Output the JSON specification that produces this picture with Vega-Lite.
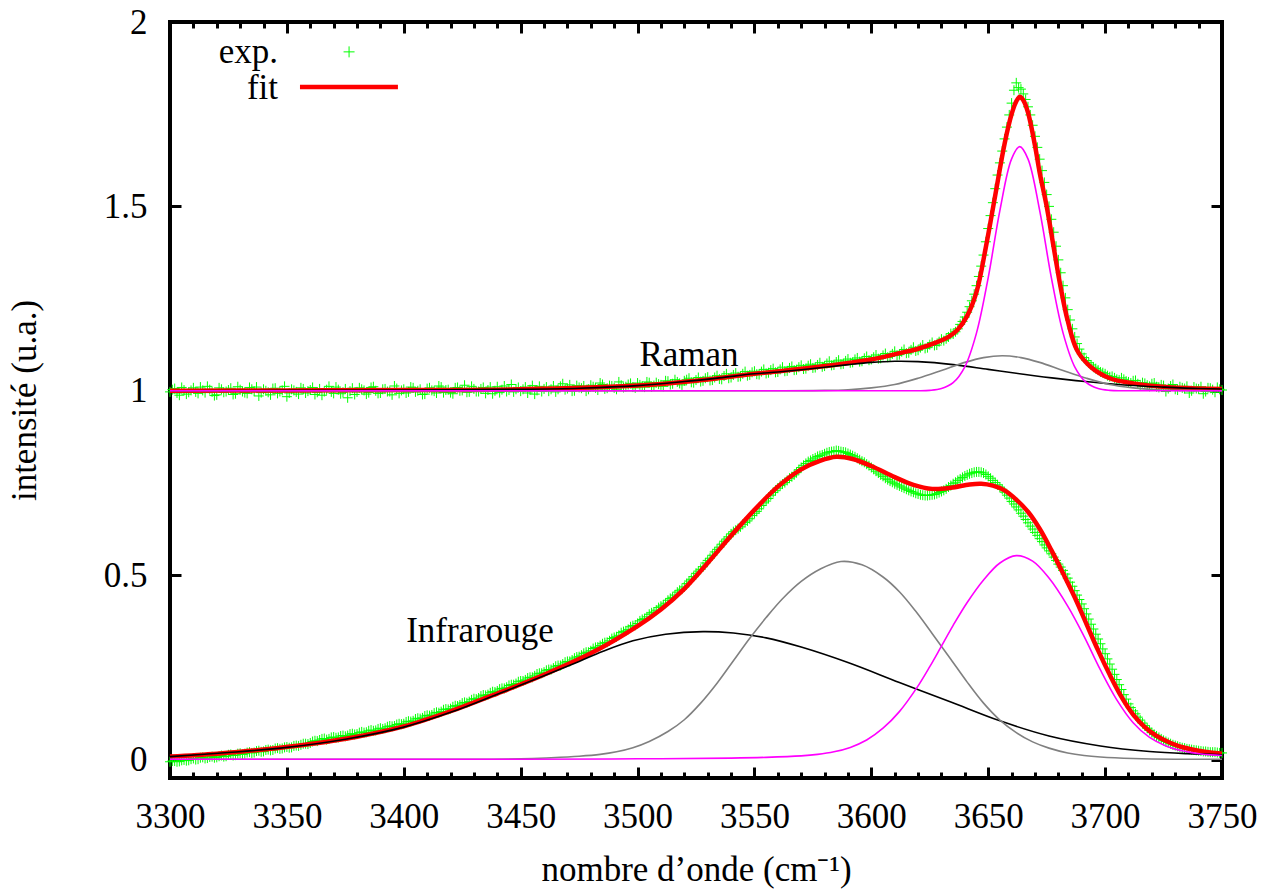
{
  "$schema": "https://vega.github.io/schema/vega-lite/v6.json",
  "width": 1052,
  "height": 756,
  "autosize": {"type": "none"},
  "padding": {"left": 170, "top": 22, "right": 46, "bottom": 112},
  "background": "white",
  "config": {
    "view": {"stroke": "black", "strokeWidth": 4},
    "axis": {"grid": false, "domain": false, "labelFont": "Liberation Serif", "labelFontSize": 35, "labelColor": "black", "titleFont": "Liberation Serif", "titleFontSize": 35, "titleFontWeight": "normal", "titleColor": "black", "tickColor": "black", "labelFlush": false, "labelOverlap": false}
  },
  "datasets": {
    "exp": [
      {"x":3300,"y":0.997},{"x":3302,"y":1.006},{"x":3304,"y":0.988},{"x":3306,"y":1.002},{"x":3308,"y":0.996},{"x":3310,"y":1.008},{"x":3312,"y":0.993},{"x":3314,"y":1.001},{"x":3316,"y":1.012},{"x":3318,"y":0.997},
      {"x":3320,"y":0.989},{"x":3322,"y":1.004},{"x":3324,"y":0.998},{"x":3326,"y":1.007},{"x":3328,"y":0.992},{"x":3330,"y":1.003},{"x":3332,"y":0.995},{"x":3334,"y":1.009},{"x":3336,"y":0.999},{"x":3338,"y":0.986},
      {"x":3340,"y":1.004},{"x":3342,"y":0.996},{"x":3344,"y":1.006},{"x":3346,"y":0.993},{"x":3348,"y":1.001},{"x":3350,"y":0.984},{"x":3352,"y":1.004},{"x":3354,"y":0.997},{"x":3356,"y":1.008},{"x":3358,"y":0.994},
      {"x":3360,"y":1.002},{"x":3362,"y":0.990},{"x":3364,"y":1.005},{"x":3366,"y":0.998},{"x":3368,"y":1.012},{"x":3370,"y":0.993},{"x":3372,"y":1.003},{"x":3374,"y":0.996},{"x":3376,"y":0.981},{"x":3378,"y":1.007},
      {"x":3380,"y":0.997},{"x":3382,"y":1.004},{"x":3384,"y":0.991},{"x":3386,"y":1.009},{"x":3388,"y":1.000},{"x":3390,"y":0.994},{"x":3392,"y":1.005},{"x":3394,"y":0.998},{"x":3396,"y":1.013},{"x":3398,"y":0.993},
      {"x":3400,"y":1.004},{"x":3402,"y":0.997},{"x":3404,"y":1.008},{"x":3406,"y":1.000},{"x":3408,"y":0.990},{"x":3410,"y":1.006},{"x":3412,"y":1.001},{"x":3414,"y":0.994},{"x":3416,"y":1.010},{"x":3418,"y":1.002},
      {"x":3420,"y":0.995},{"x":3422,"y":1.008},{"x":3424,"y":1.000},{"x":3426,"y":1.015},{"x":3428,"y":0.997},{"x":3430,"y":1.005},{"x":3432,"y":0.998},{"x":3434,"y":1.009},{"x":3436,"y":1.002},{"x":3438,"y":0.992},
      {"x":3440,"y":1.011},{"x":3442,"y":1.003},{"x":3444,"y":0.998},{"x":3446,"y":1.017},{"x":3448,"y":1.004},{"x":3450,"y":0.999},{"x":3452,"y":1.010},{"x":3454,"y":1.003},{"x":3456,"y":0.991},{"x":3458,"y":1.012},
      {"x":3460,"y":1.005},{"x":3462,"y":0.999},{"x":3464,"y":1.013},{"x":3466,"y":1.004},{"x":3468,"y":1.019},{"x":3470,"y":1.006},{"x":3472,"y":0.999},{"x":3474,"y":1.014},{"x":3476,"y":1.007},{"x":3478,"y":0.999},
      {"x":3480,"y":1.015},{"x":3482,"y":1.008},{"x":3484,"y":1.021},{"x":3486,"y":1.005},{"x":3488,"y":1.014},{"x":3490,"y":1.008},{"x":3492,"y":1.024},{"x":3494,"y":1.009},{"x":3496,"y":1.017},{"x":3498,"y":1.010},
      {"x":3500,"y":1.021},{"x":3502,"y":1.012},{"x":3504,"y":1.024},{"x":3506,"y":1.011},{"x":3508,"y":1.022},{"x":3510,"y":1.016},{"x":3512,"y":1.027},{"x":3514,"y":1.017},{"x":3516,"y":1.030},{"x":3518,"y":1.020},
      {"x":3520,"y":1.027},{"x":3522,"y":1.034},{"x":3524,"y":1.022},{"x":3526,"y":1.036},{"x":3528,"y":1.027},{"x":3530,"y":1.037},{"x":3532,"y":1.029},{"x":3534,"y":1.041},{"x":3536,"y":1.031},{"x":3538,"y":1.046},
      {"x":3540,"y":1.036},{"x":3542,"y":1.048},{"x":3544,"y":1.039},{"x":3546,"y":1.052},{"x":3548,"y":1.043},{"x":3550,"y":1.053},{"x":3552,"y":1.044},{"x":3554,"y":1.058},{"x":3556,"y":1.049},{"x":3558,"y":1.060},
      {"x":3560,"y":1.051},{"x":3562,"y":1.064},{"x":3564,"y":1.054},{"x":3566,"y":1.066},{"x":3568,"y":1.057},{"x":3570,"y":1.069},{"x":3572,"y":1.060},{"x":3574,"y":1.072},{"x":3576,"y":1.063},{"x":3578,"y":1.076},
      {"x":3580,"y":1.067},{"x":3582,"y":1.080},{"x":3584,"y":1.070},{"x":3586,"y":1.083},{"x":3588,"y":1.073},{"x":3590,"y":1.086},{"x":3592,"y":1.077},{"x":3594,"y":1.089},{"x":3596,"y":1.080},{"x":3598,"y":1.093},
      {"x":3600,"y":1.085},{"x":3602,"y":1.097},{"x":3604,"y":1.088},{"x":3606,"y":1.101},{"x":3608,"y":1.093},{"x":3610,"y":1.107},{"x":3612,"y":1.098},{"x":3614,"y":1.112},{"x":3616,"y":1.103},{"x":3618,"y":1.118},
      {"x":3620,"y":1.110},{"x":3622,"y":1.124},{"x":3624,"y":1.117},{"x":3626,"y":1.131},{"x":3628,"y":1.124},{"x":3630,"y":1.140},{"x":3632,"y":1.141},{"x":3634,"y":1.155},{"x":3636,"y":1.160},{"x":3638,"y":1.180},
      {"x":3640,"y":1.200},{"x":3642,"y":1.228},{"x":3644,"y":1.262},{"x":3646,"y":1.310},{"x":3648,"y":1.368},{"x":3650,"y":1.440},{"x":3652,"y":1.510},{"x":3654,"y":1.585},{"x":3656,"y":1.650},{"x":3658,"y":1.715},
      {"x":3660,"y":1.780},{"x":3661,"y":1.815},{"x":3662,"y":1.835},{"x":3663,"y":1.822},{"x":3664,"y":1.818},{"x":3666,"y":1.790},{"x":3668,"y":1.748},{"x":3670,"y":1.690},{"x":3672,"y":1.628},{"x":3674,"y":1.565},
      {"x":3676,"y":1.500},{"x":3678,"y":1.430},{"x":3680,"y":1.355},{"x":3682,"y":1.285},{"x":3684,"y":1.220},{"x":3686,"y":1.168},{"x":3688,"y":1.128},{"x":3690,"y":1.100},{"x":3692,"y":1.082},{"x":3694,"y":1.070},
      {"x":3696,"y":1.060},{"x":3698,"y":1.051},{"x":3700,"y":1.046},{"x":3702,"y":1.038},{"x":3704,"y":1.035},{"x":3706,"y":1.029},{"x":3708,"y":1.031},{"x":3710,"y":1.024},{"x":3712,"y":1.027},{"x":3714,"y":1.019},
      {"x":3716,"y":1.022},{"x":3718,"y":1.015},{"x":3720,"y":1.019},{"x":3722,"y":1.011},{"x":3724,"y":1.016},{"x":3726,"y":0.998},{"x":3728,"y":1.013},{"x":3730,"y":1.004},{"x":3732,"y":1.011},{"x":3734,"y":1.006},
      {"x":3736,"y":0.994},{"x":3738,"y":1.010},{"x":3740,"y":1.005},{"x":3742,"y":0.992},{"x":3744,"y":1.008},{"x":3746,"y":1.003},{"x":3748,"y":1.009},{"x":3750,"y":1.002},
      {"x":3301,"y":1.003},{"x":3303,"y":0.994},{"x":3305,"y":1.009},{"x":3307,"y":0.991},{"x":3309,"y":1.001},{"x":3311,"y":0.997},{"x":3313,"y":1.010},{"x":3315,"y":0.995},{"x":3317,"y":1.003},{"x":3319,"y":0.987},
      {"x":3321,"y":1.008},{"x":3323,"y":0.996},{"x":3325,"y":1.002},{"x":3327,"y":0.990},{"x":3329,"y":1.011},{"x":3331,"y":0.998},{"x":3333,"y":0.993},{"x":3335,"y":1.004},{"x":3337,"y":1.010},{"x":3339,"y":0.995},
      {"x":3341,"y":1.000},{"x":3343,"y":0.989},{"x":3345,"y":1.007},{"x":3347,"y":0.998},{"x":3349,"y":1.012},{"x":3351,"y":0.994},{"x":3353,"y":1.001},{"x":3355,"y":0.991},{"x":3357,"y":1.005},{"x":3359,"y":0.999},
      {"x":3361,"y":1.009},{"x":3363,"y":0.996},{"x":3365,"y":0.988},{"x":3367,"y":1.003},{"x":3369,"y":0.997},{"x":3371,"y":1.010},{"x":3373,"y":0.992},{"x":3375,"y":1.005},{"x":3377,"y":0.999},{"x":3379,"y":0.990},
      {"x":3381,"y":1.008},{"x":3383,"y":1.001},{"x":3385,"y":0.995},{"x":3387,"y":1.011},{"x":3389,"y":0.993},{"x":3391,"y":1.004},{"x":3393,"y":0.998},{"x":3395,"y":0.989},{"x":3397,"y":1.006},{"x":3399,"y":1.001},
      {"x":3401,"y":0.994},{"x":3403,"y":1.010},{"x":3405,"y":0.997},{"x":3407,"y":1.004},{"x":3409,"y":0.991},{"x":3411,"y":1.008},{"x":3413,"y":0.999},{"x":3415,"y":1.013},{"x":3417,"y":0.995},{"x":3419,"y":1.003},
      {"x":3421,"y":0.992},{"x":3423,"y":1.009},{"x":3425,"y":1.001},{"x":3427,"y":0.996},{"x":3429,"y":1.012},{"x":3431,"y":0.998},{"x":3433,"y":1.005},{"x":3435,"y":0.993},{"x":3437,"y":1.010},{"x":3439,"y":1.000},
      {"x":3441,"y":0.995},{"x":3443,"y":1.013},{"x":3445,"y":1.002},{"x":3447,"y":0.997},{"x":3449,"y":1.009},{"x":3451,"y":1.004},{"x":3453,"y":0.994},{"x":3455,"y":1.014},{"x":3457,"y":1.001},{"x":3459,"y":0.998},
      {"x":3461,"y":1.010},{"x":3463,"y":1.004},{"x":3465,"y":0.997},{"x":3467,"y":1.012},{"x":3469,"y":1.003},{"x":3471,"y":1.016},{"x":3473,"y":1.000},{"x":3475,"y":1.009},{"x":3477,"y":1.013},{"x":3479,"y":1.004},
      {"x":3481,"y":1.011},{"x":3483,"y":1.002},{"x":3485,"y":1.017},{"x":3487,"y":1.007},{"x":3489,"y":1.013},{"x":3491,"y":1.004},{"x":3493,"y":1.015},{"x":3495,"y":1.011},{"x":3497,"y":1.020},{"x":3499,"y":1.008},
      {"x":3501,"y":1.016},{"x":3503,"y":1.010},{"x":3505,"y":1.022},{"x":3507,"y":1.014},{"x":3509,"y":1.018},{"x":3511,"y":1.012},{"x":3513,"y":1.026},{"x":3515,"y":1.019},{"x":3517,"y":1.024},{"x":3519,"y":1.016},
      {"x":3521,"y":1.030},{"x":3523,"y":1.023},{"x":3525,"y":1.029},{"x":3527,"y":1.025},{"x":3529,"y":1.034},{"x":3531,"y":1.028},{"x":3533,"y":1.036},{"x":3535,"y":1.032},{"x":3537,"y":1.040},{"x":3539,"y":1.034},
      {"x":3541,"y":1.043},{"x":3543,"y":1.038},{"x":3545,"y":1.046},{"x":3547,"y":1.041},{"x":3549,"y":1.050},{"x":3551,"y":1.045},{"x":3553,"y":1.052},{"x":3555,"y":1.047},{"x":3557,"y":1.056},{"x":3559,"y":1.050},
      {"x":3561,"y":1.058},{"x":3563,"y":1.053},{"x":3565,"y":1.062},{"x":3567,"y":1.056},{"x":3569,"y":1.064},{"x":3571,"y":1.059},{"x":3573,"y":1.068},{"x":3575,"y":1.062},{"x":3577,"y":1.070},{"x":3579,"y":1.065},
      {"x":3581,"y":1.074},{"x":3583,"y":1.069},{"x":3585,"y":1.078},{"x":3587,"y":1.072},{"x":3589,"y":1.081},{"x":3591,"y":1.076},{"x":3593,"y":1.085},{"x":3595,"y":1.079},{"x":3597,"y":1.088},{"x":3599,"y":1.083},
      {"x":3601,"y":1.091},{"x":3603,"y":1.087},{"x":3605,"y":1.096},{"x":3607,"y":1.091},{"x":3609,"y":1.100},{"x":3611,"y":1.096},{"x":3613,"y":1.106},{"x":3615,"y":1.102},{"x":3617,"y":1.111},{"x":3619,"y":1.108},
      {"x":3621,"y":1.117},{"x":3623,"y":1.115},{"x":3625,"y":1.125},{"x":3627,"y":1.123},{"x":3629,"y":1.133},{"x":3631,"y":1.136},{"x":3633,"y":1.146},{"x":3635,"y":1.154},{"x":3637,"y":1.168},{"x":3639,"y":1.188},
      {"x":3641,"y":1.213},{"x":3643,"y":1.244},{"x":3645,"y":1.285},{"x":3647,"y":1.338},{"x":3649,"y":1.404},{"x":3651,"y":1.475},{"x":3653,"y":1.548},{"x":3655,"y":1.618},{"x":3657,"y":1.683},{"x":3659,"y":1.748},
      {"x":3665,"y":1.805},{"x":3667,"y":1.770},{"x":3669,"y":1.720},{"x":3671,"y":1.660},{"x":3673,"y":1.597},{"x":3675,"y":1.532},{"x":3677,"y":1.465},{"x":3679,"y":1.392},{"x":3681,"y":1.320},{"x":3683,"y":1.252},
      {"x":3685,"y":1.192},{"x":3687,"y":1.146},{"x":3689,"y":1.113},{"x":3691,"y":1.090},{"x":3693,"y":1.076},{"x":3695,"y":1.064},{"x":3697,"y":1.056},{"x":3699,"y":1.049},{"x":3701,"y":1.041},{"x":3703,"y":1.039},
      {"x":3705,"y":1.031},{"x":3707,"y":1.035},{"x":3709,"y":1.026},{"x":3711,"y":1.021},{"x":3713,"y":1.028},{"x":3715,"y":1.016},{"x":3717,"y":1.020},{"x":3719,"y":1.012},{"x":3721,"y":1.021},{"x":3723,"y":1.009},
      {"x":3725,"y":1.014},{"x":3727,"y":1.006},{"x":3729,"y":1.017},{"x":3731,"y":1.002},{"x":3733,"y":1.008},{"x":3735,"y":1.012},{"x":3737,"y":1.000},{"x":3739,"y":1.006},{"x":3741,"y":1.011},{"x":3743,"y":0.998},
      {"x":3745,"y":1.007},{"x":3747,"y":0.996},{"x":3749,"y":1.004},
      {"x":3300,"y":-0.006},{"x":3302,"y":-0.004},{"x":3304,"y":-0.005},{"x":3306,"y":-0.001},{"x":3308,"y":-0.002},{"x":3310,"y":0.003},{"x":3312,"y":0.001},{"x":3314,"y":0.006},{"x":3316,"y":0.004},{"x":3318,"y":0.008},
      {"x":3320,"y":0.006},{"x":3322,"y":0.011},{"x":3324,"y":0.009},{"x":3326,"y":0.014},{"x":3328,"y":0.012},{"x":3330,"y":0.017},{"x":3332,"y":0.016},{"x":3334,"y":0.020},{"x":3336,"y":0.019},{"x":3338,"y":0.024},
      {"x":3340,"y":0.022},{"x":3342,"y":0.027},{"x":3344,"y":0.026},{"x":3346,"y":0.031},{"x":3348,"y":0.030},{"x":3350,"y":0.034},{"x":3352,"y":0.033},{"x":3354,"y":0.038},{"x":3356,"y":0.040},{"x":3358,"y":0.043},
      {"x":3360,"y":0.045},{"x":3362,"y":0.051},{"x":3364,"y":0.053},{"x":3366,"y":0.057},{"x":3368,"y":0.056},{"x":3370,"y":0.061},{"x":3372,"y":0.060},{"x":3374,"y":0.065},{"x":3376,"y":0.065},{"x":3378,"y":0.070},
      {"x":3380,"y":0.069},{"x":3382,"y":0.075},{"x":3384,"y":0.074},{"x":3386,"y":0.080},{"x":3388,"y":0.079},{"x":3390,"y":0.085},{"x":3392,"y":0.085},{"x":3394,"y":0.091},{"x":3396,"y":0.091},{"x":3398,"y":0.097},
      {"x":3400,"y":0.097},{"x":3402,"y":0.104},{"x":3404,"y":0.105},{"x":3406,"y":0.112},{"x":3408,"y":0.113},{"x":3410,"y":0.120},{"x":3412,"y":0.121},{"x":3414,"y":0.128},{"x":3416,"y":0.130},{"x":3418,"y":0.137},
      {"x":3420,"y":0.138},{"x":3422,"y":0.146},{"x":3424,"y":0.148},{"x":3426,"y":0.155},{"x":3428,"y":0.157},{"x":3430,"y":0.165},{"x":3432,"y":0.167},{"x":3434,"y":0.175},{"x":3436,"y":0.176},{"x":3438,"y":0.184},
      {"x":3440,"y":0.186},{"x":3442,"y":0.193},{"x":3444,"y":0.196},{"x":3446,"y":0.203},{"x":3448,"y":0.206},{"x":3450,"y":0.213},{"x":3452,"y":0.216},{"x":3454,"y":0.223},{"x":3456,"y":0.227},{"x":3458,"y":0.234},
      {"x":3460,"y":0.237},{"x":3462,"y":0.244},{"x":3464,"y":0.248},{"x":3466,"y":0.255},{"x":3468,"y":0.259},{"x":3470,"y":0.266},{"x":3472,"y":0.270},{"x":3474,"y":0.278},{"x":3476,"y":0.283},{"x":3478,"y":0.291},
      {"x":3480,"y":0.295},{"x":3482,"y":0.304},{"x":3484,"y":0.309},{"x":3486,"y":0.317},{"x":3488,"y":0.322},{"x":3490,"y":0.331},{"x":3492,"y":0.337},{"x":3494,"y":0.347},{"x":3496,"y":0.353},{"x":3498,"y":0.363},
      {"x":3500,"y":0.369},{"x":3502,"y":0.380},{"x":3504,"y":0.387},{"x":3506,"y":0.398},{"x":3508,"y":0.405},{"x":3510,"y":0.416},{"x":3512,"y":0.424},{"x":3514,"y":0.437},{"x":3516,"y":0.446},{"x":3518,"y":0.459},
      {"x":3520,"y":0.468},{"x":3522,"y":0.484},{"x":3524,"y":0.496},{"x":3526,"y":0.511},{"x":3528,"y":0.523},{"x":3530,"y":0.540},{"x":3532,"y":0.554},{"x":3534,"y":0.570},{"x":3536,"y":0.584},{"x":3538,"y":0.598},
      {"x":3540,"y":0.612},{"x":3542,"y":0.622},{"x":3544,"y":0.631},{"x":3546,"y":0.643},{"x":3548,"y":0.653},{"x":3550,"y":0.668},{"x":3552,"y":0.680},{"x":3554,"y":0.696},{"x":3556,"y":0.708},{"x":3558,"y":0.724},
      {"x":3560,"y":0.736},{"x":3562,"y":0.747},{"x":3564,"y":0.757},{"x":3566,"y":0.767},{"x":3568,"y":0.778},{"x":3570,"y":0.792},{"x":3572,"y":0.803},{"x":3574,"y":0.811},{"x":3576,"y":0.818},{"x":3578,"y":0.824},
      {"x":3580,"y":0.829},{"x":3582,"y":0.834},{"x":3584,"y":0.836},{"x":3586,"y":0.837},{"x":3588,"y":0.834},{"x":3590,"y":0.830},{"x":3592,"y":0.824},{"x":3594,"y":0.817},{"x":3596,"y":0.809},{"x":3598,"y":0.801},
      {"x":3600,"y":0.792},{"x":3602,"y":0.782},{"x":3604,"y":0.772},{"x":3606,"y":0.763},{"x":3608,"y":0.755},{"x":3610,"y":0.748},{"x":3612,"y":0.742},{"x":3614,"y":0.736},{"x":3616,"y":0.730},{"x":3618,"y":0.725},
      {"x":3620,"y":0.720},{"x":3622,"y":0.717},{"x":3624,"y":0.716},{"x":3626,"y":0.718},{"x":3628,"y":0.721},{"x":3630,"y":0.727},{"x":3632,"y":0.734},{"x":3634,"y":0.743},{"x":3636,"y":0.752},{"x":3638,"y":0.761},
      {"x":3640,"y":0.769},{"x":3642,"y":0.775},{"x":3644,"y":0.779},{"x":3646,"y":0.780},{"x":3648,"y":0.777},{"x":3650,"y":0.768},{"x":3652,"y":0.757},{"x":3654,"y":0.745},{"x":3656,"y":0.733},{"x":3658,"y":0.717},
      {"x":3660,"y":0.700},{"x":3662,"y":0.685},{"x":3664,"y":0.668},{"x":3666,"y":0.651},{"x":3668,"y":0.633},{"x":3670,"y":0.616},{"x":3672,"y":0.599},{"x":3674,"y":0.582},{"x":3676,"y":0.566},{"x":3678,"y":0.549},
      {"x":3680,"y":0.530},{"x":3682,"y":0.513},{"x":3684,"y":0.492},{"x":3686,"y":0.470},{"x":3688,"y":0.446},{"x":3690,"y":0.422},{"x":3692,"y":0.395},{"x":3694,"y":0.367},{"x":3696,"y":0.340},{"x":3698,"y":0.314},
      {"x":3700,"y":0.287},{"x":3702,"y":0.259},{"x":3704,"y":0.231},{"x":3706,"y":0.203},{"x":3708,"y":0.176},{"x":3710,"y":0.151},{"x":3712,"y":0.132},{"x":3714,"y":0.115},{"x":3716,"y":0.099},{"x":3718,"y":0.085},
      {"x":3720,"y":0.073},{"x":3722,"y":0.064},{"x":3724,"y":0.056},{"x":3726,"y":0.049},{"x":3728,"y":0.043},{"x":3730,"y":0.038},{"x":3732,"y":0.034},{"x":3734,"y":0.031},{"x":3736,"y":0.028},{"x":3738,"y":0.026},
      {"x":3740,"y":0.024},{"x":3742,"y":0.022},{"x":3744,"y":0.021},{"x":3746,"y":0.020},{"x":3748,"y":0.019},{"x":3750,"y":0.018},
      {"x":3301,"y":-0.004},{"x":3303,"y":-0.006},{"x":3305,"y":-0.002},{"x":3307,"y":-0.003},{"x":3309,"y":0.001},{"x":3311,"y":0.000},{"x":3313,"y":0.005},{"x":3315,"y":0.003},{"x":3317,"y":0.007},{"x":3319,"y":0.005},
      {"x":3321,"y":0.009},{"x":3323,"y":0.008},{"x":3325,"y":0.013},{"x":3327,"y":0.011},{"x":3329,"y":0.016},{"x":3331,"y":0.014},{"x":3333,"y":0.019},{"x":3335,"y":0.018},{"x":3337,"y":0.023},{"x":3339,"y":0.021},
      {"x":3341,"y":0.026},{"x":3343,"y":0.025},{"x":3345,"y":0.030},{"x":3347,"y":0.029},{"x":3349,"y":0.033},{"x":3351,"y":0.032},{"x":3353,"y":0.037},{"x":3355,"y":0.037},{"x":3357,"y":0.043},{"x":3359,"y":0.042},
      {"x":3361,"y":0.049},{"x":3363,"y":0.050},{"x":3365,"y":0.056},{"x":3367,"y":0.054},{"x":3369,"y":0.060},{"x":3371,"y":0.059},{"x":3373,"y":0.064},{"x":3375,"y":0.063},{"x":3377,"y":0.069},{"x":3379,"y":0.068},
      {"x":3381,"y":0.073},{"x":3383,"y":0.073},{"x":3385,"y":0.078},{"x":3387,"y":0.078},{"x":3389,"y":0.083},{"x":3391,"y":0.083},{"x":3393,"y":0.089},{"x":3395,"y":0.090},{"x":3397,"y":0.095},{"x":3399,"y":0.096},
      {"x":3401,"y":0.102},{"x":3403,"y":0.103},{"x":3405,"y":0.110},{"x":3407,"y":0.111},{"x":3409,"y":0.118},{"x":3411,"y":0.119},{"x":3413,"y":0.126},{"x":3415,"y":0.127},{"x":3417,"y":0.135},{"x":3419,"y":0.136},
      {"x":3421,"y":0.143},{"x":3423,"y":0.145},{"x":3425,"y":0.153},{"x":3427,"y":0.154},{"x":3429,"y":0.162},{"x":3431,"y":0.164},{"x":3433,"y":0.172},{"x":3435,"y":0.174},{"x":3437,"y":0.181},{"x":3439,"y":0.183},
      {"x":3441,"y":0.191},{"x":3443,"y":0.193},{"x":3445,"y":0.201},{"x":3447,"y":0.203},{"x":3449,"y":0.211},{"x":3451,"y":0.213},{"x":3453,"y":0.221},{"x":3455,"y":0.223},{"x":3457,"y":0.232},{"x":3459,"y":0.234},
      {"x":3461,"y":0.242},{"x":3463,"y":0.244},{"x":3465,"y":0.253},{"x":3467,"y":0.255},{"x":3469,"y":0.264},{"x":3471,"y":0.266},{"x":3473,"y":0.275},{"x":3475,"y":0.279},{"x":3477,"y":0.288},{"x":3479,"y":0.291},
      {"x":3481,"y":0.301},{"x":3483,"y":0.305},{"x":3485,"y":0.314},{"x":3487,"y":0.318},{"x":3489,"y":0.328},{"x":3491,"y":0.333},{"x":3493,"y":0.344},{"x":3495,"y":0.349},{"x":3497,"y":0.360},{"x":3499,"y":0.364},
      {"x":3501,"y":0.376},{"x":3503,"y":0.382},{"x":3505,"y":0.394},{"x":3507,"y":0.400},{"x":3509,"y":0.412},{"x":3511,"y":0.419},{"x":3513,"y":0.432},{"x":3515,"y":0.440},{"x":3517,"y":0.454},{"x":3519,"y":0.462},
      {"x":3521,"y":0.477},{"x":3523,"y":0.489},{"x":3525,"y":0.505},{"x":3527,"y":0.516},{"x":3529,"y":0.533},{"x":3531,"y":0.546},{"x":3533,"y":0.563},{"x":3535,"y":0.576},{"x":3537,"y":0.592},{"x":3539,"y":0.604},
      {"x":3541,"y":0.618},{"x":3543,"y":0.626},{"x":3545,"y":0.638},{"x":3547,"y":0.647},{"x":3549,"y":0.662},{"x":3551,"y":0.673},{"x":3553,"y":0.689},{"x":3555,"y":0.701},{"x":3557,"y":0.717},{"x":3559,"y":0.729},
      {"x":3561,"y":0.743},{"x":3563,"y":0.751},{"x":3565,"y":0.763},{"x":3567,"y":0.772},{"x":3569,"y":0.786},{"x":3571,"y":0.798},{"x":3573,"y":0.808},{"x":3575,"y":0.815},{"x":3577,"y":0.822},{"x":3579,"y":0.826},
      {"x":3581,"y":0.832},{"x":3583,"y":0.835},{"x":3585,"y":0.838},{"x":3587,"y":0.835},{"x":3589,"y":0.833},{"x":3591,"y":0.827},{"x":3593,"y":0.821},{"x":3595,"y":0.813},{"x":3597,"y":0.806},{"x":3599,"y":0.797},
      {"x":3601,"y":0.787},{"x":3603,"y":0.777},{"x":3605,"y":0.768},{"x":3607,"y":0.759},{"x":3609,"y":0.752},{"x":3611,"y":0.745},{"x":3613,"y":0.739},{"x":3615,"y":0.733},{"x":3617,"y":0.727},{"x":3619,"y":0.722},
      {"x":3621,"y":0.718},{"x":3623,"y":0.716},{"x":3625,"y":0.717},{"x":3627,"y":0.719},{"x":3629,"y":0.724},{"x":3631,"y":0.730},{"x":3633,"y":0.739},{"x":3635,"y":0.748},{"x":3637,"y":0.757},{"x":3639,"y":0.765},
      {"x":3641,"y":0.772},{"x":3643,"y":0.777},{"x":3645,"y":0.780},{"x":3647,"y":0.779},{"x":3649,"y":0.773},{"x":3651,"y":0.763},{"x":3653,"y":0.751},{"x":3655,"y":0.739},{"x":3657,"y":0.725},{"x":3659,"y":0.709},
      {"x":3661,"y":0.693},{"x":3663,"y":0.677},{"x":3665,"y":0.660},{"x":3667,"y":0.642},{"x":3669,"y":0.625},{"x":3671,"y":0.608},{"x":3673,"y":0.591},{"x":3675,"y":0.574},{"x":3677,"y":0.558},{"x":3679,"y":0.540},
      {"x":3681,"y":0.522},{"x":3683,"y":0.503},{"x":3685,"y":0.481},{"x":3687,"y":0.458},{"x":3689,"y":0.434},{"x":3691,"y":0.409},{"x":3693,"y":0.381},{"x":3695,"y":0.354},{"x":3697,"y":0.327},{"x":3699,"y":0.300},
      {"x":3701,"y":0.273},{"x":3703,"y":0.245},{"x":3705,"y":0.217},{"x":3707,"y":0.190},{"x":3709,"y":0.164},{"x":3711,"y":0.141},{"x":3713,"y":0.124},{"x":3715,"y":0.107},{"x":3717,"y":0.092},{"x":3719,"y":0.079},
      {"x":3721,"y":0.068},{"x":3723,"y":0.060},{"x":3725,"y":0.052},{"x":3727,"y":0.046},{"x":3729,"y":0.040},{"x":3731,"y":0.036},{"x":3733,"y":0.032},{"x":3735,"y":0.029},{"x":3737,"y":0.027},{"x":3739,"y":0.025},
      {"x":3741,"y":0.023},{"x":3743,"y":0.022},{"x":3745,"y":0.020},{"x":3747,"y":0.020},{"x":3749,"y":0.018}
    ],
    "lines": [
      {"k":"fit","s":"R","x":3300,"y":1.000},{"k":"fit","s":"R","x":3350,"y":1.001},{"k":"fit","s":"R","x":3400,"y":1.002},{"k":"fit","s":"R","x":3450,"y":1.004},{"k":"fit","s":"R","x":3500,"y":1.014},{"k":"fit","s":"R","x":3525,"y":1.027},{"k":"fit","s":"R","x":3550,"y":1.046},{"k":"fit","s":"R","x":3575,"y":1.063},{"k":"fit","s":"R","x":3600,"y":1.085},{"k":"fit","s":"R","x":3612,"y":1.102},{"k":"fit","s":"R","x":3620,"y":1.114},{"k":"fit","s":"R","x":3627,"y":1.129},{"k":"fit","s":"R","x":3633,"y":1.146},{"k":"fit","s":"R","x":3637,"y":1.166},{"k":"fit","s":"R","x":3641,"y":1.203},{"k":"fit","s":"R","x":3645,"y":1.268},{"k":"fit","s":"R","x":3649,"y":1.390},{"k":"fit","s":"R","x":3653,"y":1.530},{"k":"fit","s":"R","x":3657,"y":1.670},{"k":"fit","s":"R","x":3660,"y":1.750},{"k":"fit","s":"R","x":3662,"y":1.785},{"k":"fit","s":"R","x":3663.5,"y":1.797},{"k":"fit","s":"R","x":3665,"y":1.788},{"k":"fit","s":"R","x":3667,"y":1.755},{"k":"fit","s":"R","x":3670,"y":1.665},{"k":"fit","s":"R","x":3672,"y":1.592},{"k":"fit","s":"R","x":3675,"y":1.500},{"k":"fit","s":"R","x":3678,"y":1.389},{"k":"fit","s":"R","x":3681,"y":1.280},{"k":"fit","s":"R","x":3684,"y":1.190},{"k":"fit","s":"R","x":3688,"y":1.110},{"k":"fit","s":"R","x":3694,"y":1.064},{"k":"fit","s":"R","x":3702,"y":1.034},{"k":"fit","s":"R","x":3712,"y":1.020},{"k":"fit","s":"R","x":3726,"y":1.010},{"k":"fit","s":"R","x":3740,"y":1.006},{"k":"fit","s":"R","x":3750,"y":1.005},
      {"k":"a","s":"R","x":3300,"y":1.000},{"k":"a","s":"R","x":3350,"y":1.001},{"k":"a","s":"R","x":3400,"y":1.002},{"k":"a","s":"R","x":3450,"y":1.004},{"k":"a","s":"R","x":3475,"y":1.007},{"k":"a","s":"R","x":3500,"y":1.014},{"k":"a","s":"R","x":3520,"y":1.025},{"k":"a","s":"R","x":3535,"y":1.035},{"k":"a","s":"R","x":3550,"y":1.046},{"k":"a","s":"R","x":3560,"y":1.051},{"k":"a","s":"R","x":3570,"y":1.057},{"k":"a","s":"R","x":3580,"y":1.064},{"k":"a","s":"R","x":3590,"y":1.071},{"k":"a","s":"R","x":3600,"y":1.077},{"k":"a","s":"R","x":3610,"y":1.080},{"k":"a","s":"R","x":3620,"y":1.079},{"k":"a","s":"R","x":3635,"y":1.071},{"k":"a","s":"R","x":3650,"y":1.058},{"k":"a","s":"R","x":3665,"y":1.045},{"k":"a","s":"R","x":3680,"y":1.033},{"k":"a","s":"R","x":3695,"y":1.023},{"k":"a","s":"R","x":3710,"y":1.015},{"k":"a","s":"R","x":3725,"y":1.010},{"k":"a","s":"R","x":3740,"y":1.006},{"k":"a","s":"R","x":3750,"y":1.005},
      {"k":"b","s":"R","x":3300,"y":1.000},{"k":"b","s":"R","x":3560,"y":1.000},{"k":"b","s":"R","x":3580,"y":1.001},{"k":"b","s":"R","x":3590,"y":1.003},{"k":"b","s":"R","x":3600,"y":1.008},{"k":"b","s":"R","x":3610,"y":1.017},{"k":"b","s":"R","x":3620,"y":1.034},{"k":"b","s":"R","x":3630,"y":1.055},{"k":"b","s":"R","x":3640,"y":1.077},{"k":"b","s":"R","x":3648,"y":1.090},{"k":"b","s":"R","x":3656,"y":1.095},{"k":"b","s":"R","x":3664,"y":1.090},{"k":"b","s":"R","x":3672,"y":1.077},{"k":"b","s":"R","x":3682,"y":1.055},{"k":"b","s":"R","x":3692,"y":1.034},{"k":"b","s":"R","x":3702,"y":1.017},{"k":"b","s":"R","x":3712,"y":1.008},{"k":"b","s":"R","x":3722,"y":1.003},{"k":"b","s":"R","x":3732,"y":1.001},{"k":"b","s":"R","x":3750,"y":1.000},
      {"k":"c","s":"R","x":3300,"y":1.000},{"k":"c","s":"R","x":3615,"y":1.000},{"k":"c","s":"R","x":3620,"y":1.000},{"k":"c","s":"R","x":3625,"y":1.001},{"k":"c","s":"R","x":3630,"y":1.006},{"k":"c","s":"R","x":3635,"y":1.022},{"k":"c","s":"R","x":3640,"y":1.065},{"k":"c","s":"R","x":3645,"y":1.157},{"k":"c","s":"R","x":3650,"y":1.307},{"k":"c","s":"R","x":3655,"y":1.489},{"k":"c","s":"R","x":3660,"y":1.629},{"k":"c","s":"R","x":3663.5,"y":1.662},{"k":"c","s":"R","x":3667,"y":1.629},{"k":"c","s":"R","x":3672,"y":1.489},{"k":"c","s":"R","x":3677,"y":1.307},{"k":"c","s":"R","x":3682,"y":1.157},{"k":"c","s":"R","x":3687,"y":1.065},{"k":"c","s":"R","x":3692,"y":1.022},{"k":"c","s":"R","x":3697,"y":1.006},{"k":"c","s":"R","x":3702,"y":1.001},{"k":"c","s":"R","x":3707,"y":1.000},{"k":"c","s":"R","x":3712,"y":1.000},{"k":"c","s":"R","x":3750,"y":1.000},
      {"k":"fit","s":"IR","x":3300,"y":0.008},{"k":"fit","s":"IR","x":3320,"y":0.016},{"k":"fit","s":"IR","x":3340,"y":0.027},{"k":"fit","s":"IR","x":3360,"y":0.042},{"k":"fit","s":"IR","x":3380,"y":0.062},{"k":"fit","s":"IR","x":3400,"y":0.090},{"k":"fit","s":"IR","x":3420,"y":0.131},{"k":"fit","s":"IR","x":3440,"y":0.179},{"k":"fit","s":"IR","x":3460,"y":0.230},{"k":"fit","s":"IR","x":3480,"y":0.288},{"k":"fit","s":"IR","x":3500,"y":0.362},{"k":"fit","s":"IR","x":3510,"y":0.407},{"k":"fit","s":"IR","x":3520,"y":0.463},{"k":"fit","s":"IR","x":3530,"y":0.533},{"k":"fit","s":"IR","x":3540,"y":0.607},{"k":"fit","s":"IR","x":3550,"y":0.677},{"k":"fit","s":"IR","x":3560,"y":0.740},{"k":"fit","s":"IR","x":3570,"y":0.787},{"k":"fit","s":"IR","x":3578,"y":0.810},{"k":"fit","s":"IR","x":3585,"y":0.821},{"k":"fit","s":"IR","x":3592,"y":0.815},{"k":"fit","s":"IR","x":3600,"y":0.796},{"k":"fit","s":"IR","x":3610,"y":0.766},{"k":"fit","s":"IR","x":3618,"y":0.745},{"k":"fit","s":"IR","x":3626,"y":0.734},{"k":"fit","s":"IR","x":3634,"y":0.737},{"k":"fit","s":"IR","x":3642,"y":0.746},{"k":"fit","s":"IR","x":3647,"y":0.748},{"k":"fit","s":"IR","x":3652,"y":0.743},{"k":"fit","s":"IR","x":3657,"y":0.730},{"k":"fit","s":"IR","x":3662,"y":0.705},{"k":"fit","s":"IR","x":3667,"y":0.672},{"k":"fit","s":"IR","x":3672,"y":0.626},{"k":"fit","s":"IR","x":3677,"y":0.568},{"k":"fit","s":"IR","x":3682,"y":0.505},{"k":"fit","s":"IR","x":3687,"y":0.440},{"k":"fit","s":"IR","x":3692,"y":0.368},{"k":"fit","s":"IR","x":3697,"y":0.296},{"k":"fit","s":"IR","x":3702,"y":0.230},{"k":"fit","s":"IR","x":3707,"y":0.170},{"k":"fit","s":"IR","x":3712,"y":0.122},{"k":"fit","s":"IR","x":3717,"y":0.088},{"k":"fit","s":"IR","x":3722,"y":0.064},{"k":"fit","s":"IR","x":3728,"y":0.045},{"k":"fit","s":"IR","x":3734,"y":0.032},{"k":"fit","s":"IR","x":3740,"y":0.024},{"k":"fit","s":"IR","x":3745,"y":0.019},{"k":"fit","s":"IR","x":3750,"y":0.016},
      {"k":"a","s":"IR","x":3300,"y":0.008},{"k":"a","s":"IR","x":3325,"y":0.019},{"k":"a","s":"IR","x":3350,"y":0.033},{"k":"a","s":"IR","x":3375,"y":0.055},{"k":"a","s":"IR","x":3400,"y":0.088},{"k":"a","s":"IR","x":3420,"y":0.128},{"k":"a","s":"IR","x":3440,"y":0.177},{"k":"a","s":"IR","x":3460,"y":0.227},{"k":"a","s":"IR","x":3475,"y":0.266},{"k":"a","s":"IR","x":3485,"y":0.293},{"k":"a","s":"IR","x":3498,"y":0.322},{"k":"a","s":"IR","x":3512,"y":0.340},{"k":"a","s":"IR","x":3528,"y":0.347},{"k":"a","s":"IR","x":3541,"y":0.343},{"k":"a","s":"IR","x":3555,"y":0.330},{"k":"a","s":"IR","x":3570,"y":0.305},{"k":"a","s":"IR","x":3590,"y":0.263},{"k":"a","s":"IR","x":3612,"y":0.209},{"k":"a","s":"IR","x":3634,"y":0.156},{"k":"a","s":"IR","x":3655,"y":0.105},{"k":"a","s":"IR","x":3676,"y":0.064},{"k":"a","s":"IR","x":3698,"y":0.037},{"k":"a","s":"IR","x":3719,"y":0.022},{"k":"a","s":"IR","x":3735,"y":0.016},{"k":"a","s":"IR","x":3750,"y":0.013},
      {"k":"b","s":"IR","x":3300,"y":0.001},{"k":"b","s":"IR","x":3400,"y":0.001},{"k":"b","s":"IR","x":3450,"y":0.002},{"k":"b","s":"IR","x":3463,"y":0.005},{"k":"b","s":"IR","x":3475,"y":0.009},{"k":"b","s":"IR","x":3484,"y":0.014},{"k":"b","s":"IR","x":3491,"y":0.021},{"k":"b","s":"IR","x":3498,"y":0.032},{"k":"b","s":"IR","x":3505,"y":0.049},{"k":"b","s":"IR","x":3513,"y":0.076},{"k":"b","s":"IR","x":3520,"y":0.108},{"k":"b","s":"IR","x":3527,"y":0.153},{"k":"b","s":"IR","x":3534,"y":0.207},{"k":"b","s":"IR","x":3541,"y":0.268},{"k":"b","s":"IR","x":3548,"y":0.329},{"k":"b","s":"IR","x":3555,"y":0.385},{"k":"b","s":"IR","x":3562,"y":0.436},{"k":"b","s":"IR","x":3570,"y":0.483},{"k":"b","s":"IR","x":3578,"y":0.516},{"k":"b","s":"IR","x":3587,"y":0.537},{"k":"b","s":"IR","x":3596,"y":0.528},{"k":"b","s":"IR","x":3605,"y":0.495},{"k":"b","s":"IR","x":3612,"y":0.455},{"k":"b","s":"IR","x":3619,"y":0.402},{"k":"b","s":"IR","x":3626,"y":0.342},{"k":"b","s":"IR","x":3634,"y":0.272},{"k":"b","s":"IR","x":3641,"y":0.210},{"k":"b","s":"IR","x":3648,"y":0.153},{"k":"b","s":"IR","x":3655,"y":0.107},{"k":"b","s":"IR","x":3662,"y":0.073},{"k":"b","s":"IR","x":3669,"y":0.048},{"k":"b","s":"IR","x":3676,"y":0.031},{"k":"b","s":"IR","x":3684,"y":0.018},{"k":"b","s":"IR","x":3691,"y":0.011},{"k":"b","s":"IR","x":3698,"y":0.007},{"k":"b","s":"IR","x":3712,"y":0.003},{"k":"b","s":"IR","x":3730,"y":0.001},{"k":"b","s":"IR","x":3750,"y":0.001},
      {"k":"c","s":"IR","x":3300,"y":0.001},{"k":"c","s":"IR","x":3450,"y":0.001},{"k":"c","s":"IR","x":3500,"y":0.002},{"k":"c","s":"IR","x":3540,"y":0.004},{"k":"c","s":"IR","x":3555,"y":0.006},{"k":"c","s":"IR","x":3570,"y":0.010},{"k":"c","s":"IR","x":3577,"y":0.014},{"k":"c","s":"IR","x":3584,"y":0.021},{"k":"c","s":"IR","x":3591,"y":0.033},{"k":"c","s":"IR","x":3598,"y":0.053},{"k":"c","s":"IR","x":3605,"y":0.085},{"k":"c","s":"IR","x":3612,"y":0.130},{"k":"c","s":"IR","x":3619.5,"y":0.195},{"k":"c","s":"IR","x":3625,"y":0.252},{"k":"c","s":"IR","x":3629.5,"y":0.302},{"k":"c","s":"IR","x":3635,"y":0.364},{"k":"c","s":"IR","x":3641,"y":0.426},{"k":"c","s":"IR","x":3648,"y":0.487},{"k":"c","s":"IR","x":3655,"y":0.533},{"k":"c","s":"IR","x":3662,"y":0.553},{"k":"c","s":"IR","x":3669,"y":0.538},{"k":"c","s":"IR","x":3676,"y":0.492},{"k":"c","s":"IR","x":3684,"y":0.416},{"k":"c","s":"IR","x":3691,"y":0.334},{"k":"c","s":"IR","x":3698,"y":0.243},{"k":"c","s":"IR","x":3705,"y":0.162},{"k":"c","s":"IR","x":3712,"y":0.100},{"k":"c","s":"IR","x":3719,"y":0.060},{"k":"c","s":"IR","x":3726,"y":0.037},{"k":"c","s":"IR","x":3733.5,"y":0.023},{"k":"c","s":"IR","x":3741,"y":0.015},{"k":"c","s":"IR","x":3750,"y":0.011}
    ]
  },
  "layer": [
    {
      "data": {"name": "exp"},
      "mark": {"type": "point", "shape": "M-1,0H1M0,-1V1", "filled": false, "size": 100, "strokeWidth": 1, "color": "#00ff00", "opacity": 1, "clip": false},
      "encoding": {
        "x": {"field": "x", "type": "quantitative", "scale": {"domain": [3300, 3750], "nice": false, "zero": false},
          "axis": {"orient": "bottom", "values": [3300,3350,3400,3450,3500,3550,3600,3650,3700,3750], "format": "d", "ticks": false, "tickSize": 0, "labelPadding": 49, "labelBaseline": "alphabetic",
            "title": "nombre d’onde (cm⁻¹)", "titleX": 526, "titleY": 102, "titleBaseline": "alphabetic", "titleAlign": "center"}},
        "y": {"field": "y", "type": "quantitative", "scale": {"domain": [-0.05, 2], "nice": false, "zero": false},
          "axis": {"orient": "left", "values": [0, 0.5, 1, 1.5, 2], "format": "~g", "ticks": false, "tickSize": 0, "labelPadding": 23, "labelBaseline": "middle",
            "title": "intensité (u.a.)", "titleX": -135, "titleY": 378, "titleAngle": -90, "titleBaseline": "alphabetic", "titleAlign": "center"}}
      }
    },
    {
      "data": {"name": "lines"},
      "transform": [{"filter": "datum.k === 'fit'"}],
      "mark": {"type": "line", "color": "#ff0000", "strokeWidth": 4.5, "interpolate": "catmull-rom"},
      "encoding": {
        "x": {"field": "x", "type": "quantitative", "axis": {"orient": "bottom", "values": [3300,3350,3400,3450,3500,3550,3600,3650,3700,3750], "labels": false, "ticks": true, "tickSize": -11, "tickWidth": 3, "title": null}},
        "y": {"field": "y", "type": "quantitative", "axis": {"orient": "left", "values": [0, 0.5, 1, 1.5, 2], "labels": false, "ticks": true, "tickSize": -11, "tickWidth": 3, "title": null}},
        "detail": {"field": "s"}
      }
    },
    {
      "data": {"name": "lines"},
      "transform": [{"filter": "datum.k !== 'fit'"}],
      "mark": {"type": "line", "strokeWidth": 1.6, "interpolate": "catmull-rom"},
      "encoding": {
        "x": {"field": "x", "type": "quantitative", "axis": {"orient": "top", "values": [3300,3350,3400,3450,3500,3550,3600,3650,3700,3750], "labels": false, "ticks": true, "tickSize": -11, "tickWidth": 3, "title": null}},
        "y": {"field": "y", "type": "quantitative", "axis": {"orient": "right", "values": [0, 0.5, 1, 1.5, 2], "labels": false, "ticks": true, "tickSize": -11, "tickWidth": 3, "title": null}},
        "color": {"field": "k", "type": "nominal", "scale": {"domain": ["a", "b", "c"], "range": ["#000000", "#808080", "#ff00ff"]}, "legend": null},
        "detail": {"field": "s"}
      }
    },
    {
      "data": {"values": [{"t": "Raman", "x": 3522, "y": 1.067}, {"t": "Infrarouge", "x": 3432.6, "y": 0.32}]},
      "mark": {"type": "text", "font": "Liberation Serif", "fontSize": 35, "color": "black", "align": "center", "baseline": "alphabetic"},
      "encoding": {
        "x": {"field": "x", "type": "quantitative", "axis": {"orient": "bottom", "values": [3310,3320,3330,3340,3360,3370,3380,3390,3410,3420,3430,3440,3460,3470,3480,3490,3510,3520,3530,3540,3560,3570,3580,3590,3610,3620,3630,3640,3660,3670,3680,3690,3710,3720,3730,3740], "labels": false, "ticks": true, "tickSize": -6, "tickWidth": 3, "title": null}},
        "y": {"field": "y", "type": "quantitative", "axis": null},
        "text": {"field": "t"}
      }
    },
    {
      "data": {"values": [{"t": "exp.", "x": 3346.2, "y": 1.889}, {"t": "fit", "x": 3346.2, "y": 1.790}]},
      "mark": {"type": "text", "font": "Liberation Serif", "fontSize": 35, "color": "black", "align": "right", "baseline": "alphabetic"},
      "encoding": {
        "x": {"field": "x", "type": "quantitative", "axis": {"orient": "top", "values": [3310,3320,3330,3340,3360,3370,3380,3390,3410,3420,3430,3440,3460,3470,3480,3490,3510,3520,3530,3540,3560,3570,3580,3590,3610,3620,3630,3640,3660,3670,3680,3690,3710,3720,3730,3740], "labels": false, "ticks": true, "tickSize": -6, "tickWidth": 3, "title": null}},
        "y": {"field": "y", "type": "quantitative", "axis": null},
        "text": {"field": "t"}
      }
    },
    {
      "data": {"values": [{"x": 3376.6, "y": 1.919}]},
      "mark": {"type": "point", "shape": "M-1,0H1M0,-1V1", "filled": false, "size": 121, "strokeWidth": 1, "color": "#00ff00", "opacity": 1},
      "encoding": {
        "x": {"field": "x", "type": "quantitative", "axis": null},
        "y": {"field": "y", "type": "quantitative", "axis": null}
      }
    },
    {
      "data": {"values": [{"x": 3355.6, "x2": 3397.5, "y": 1.824}]},
      "mark": {"type": "rule", "color": "#ff0000", "strokeWidth": 4.5},
      "encoding": {
        "x": {"field": "x", "type": "quantitative", "axis": null},
        "x2": {"field": "x2"},
        "y": {"field": "y", "type": "quantitative", "axis": null}
      }
    }
  ],
  "resolve": {"axis": {"x": "independent", "y": "independent"}}
}
